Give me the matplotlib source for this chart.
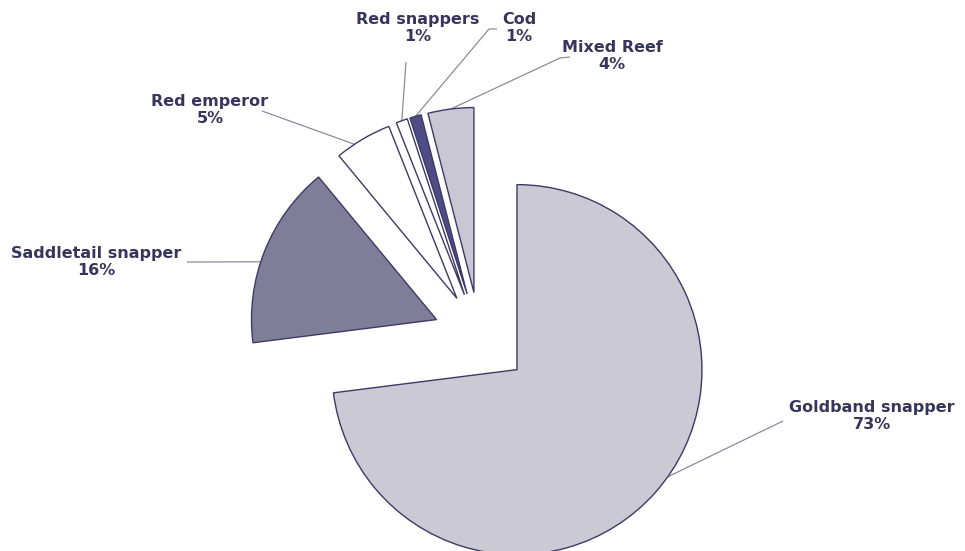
import numpy as np
import matplotlib.pyplot as plt

species = ['Goldband snapper', 'Saddletail snapper', 'Red emperor',
           'Red snappers', 'Cod', 'Mixed Reef']
shares = [73, 16, 5, 1, 1, 4]
colori = ['#cbc9d4', '#7f7e98', '#ffffff', '#ffffff', '#4f4b85', '#c9c7d3']
esplodi = [0.27, 0.25, 0.24, 0.24, 0.24, 0.24]

# posizione etichette (centro del testo) e gomito della linea, in pixel
etichette_px = [(872, 416), (96, 262), (210, 110), (418, 28), (519, 28), (612, 56)]
gomiti_px = [[(783, 421)], [(187, 262)], [(262, 111)], [(406, 62)],
             [(497, 29), (489, 29)], [(570, 57), (560, 58)]]
# spostamento (gradi) del punto d'attacco rispetto al centro dello spicchio
scarti = [6, 3.4, 3, 0, 0, 0]

W, H = 965, 551
cx, cy, scala = 479.5, 336.6, 185.0


def px2dati(p):
    return ((p[0] - cx) / scala, (cy - p[1]) / scala)


fig = plt.figure(figsize=(W / 100, H / 100), dpi=100)
ax = fig.add_axes([0, 0, 1, 1])
ax.axis('off')

spicchi, _ = ax.pie(shares, explode=esplodi, colors=colori, startangle=90,
                    counterclock=False, radius=1,
                    wedgeprops=dict(edgecolor='#3c3a66', linewidth=1.0))
ax.set_xlim(-cx / scala, (W - cx) / scala)
ax.set_ylim((cy - H) / scala, cy / scala)
ax.set_aspect('auto')

for w, nome, quota, pos, gomito, sc in zip(spicchi, species, shares,
                                           etichette_px, gomiti_px, scarti):
    ang = np.deg2rad((w.theta1 + w.theta2) / 2 + sc)
    x0, y0 = w.center
    arco = (x0 + w.r * np.cos(ang), y0 + w.r * np.sin(ang))
    punti = [px2dati(g) for g in gomito] + [arco]
    ax.plot([p[0] for p in punti], [p[1] for p in punti], color='#8c8b9c',
            linewidth=0.9, solid_capstyle='butt', zorder=0)
    tx, ty = px2dati(pos)
    ax.text(tx, ty, f'{nome}\n{quota}%', ha='center', va='center',
            fontsize=11.5, fontweight='bold', color='#36355c',
            family='DejaVu Sans', linespacing=1.15)

plt.savefig('out.png', dpi=100, facecolor='white')
plt.close()
